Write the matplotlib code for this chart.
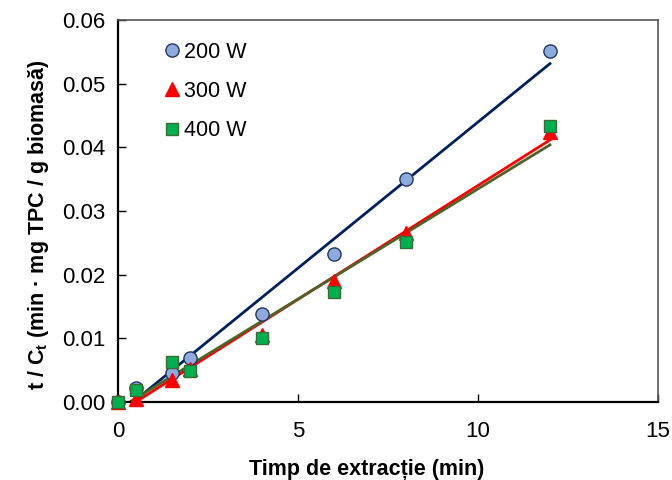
import numpy as np
import matplotlib
matplotlib.use("Agg")
import matplotlib.pyplot as plt

plt.rcParams['font.family'] = ['Liberation Sans', 'DejaVu Sans']
plt.rcParams['mathtext.fontset'] = 'custom'
plt.rcParams['mathtext.rm'] = 'Liberation Sans'
plt.rcParams['mathtext.bf'] = 'Liberation Sans:bold'

# timp (min)
t = [0, 0.5, 1.5, 2, 4, 6, 8, 12]
# t / Ct values
w200 = [0, 0.0022, 0.0046, 0.0069, 0.0138, 0.0232, 0.0350, 0.0552]
w300 = [0, 0.0005, 0.0035, 0.0052, 0.0105, 0.0190, 0.0265, 0.0425]
w400 = [0, 0.0019, 0.0063, 0.0049, 0.0100, 0.0173, 0.0251, 0.0433]

series = [
    ("200 W", w200, 'o', '#8FAADC', '#1F3864', '#002060', 9.5),
    ("300 W", w300, '^', '#FF0000', '#FF0000', '#FF0000', 9.5),
    ("400 W", w400, 's', '#00B050', '#3A6B35', '#4F6228', 9),
]

fig = plt.figure(figsize=(6.72, 4.8), dpi=100)
ax = fig.add_axes([0.176, 0.1625, 0.803, 0.7955])

xs = np.array([min(t), max(t)])
# trendlines first (under markers)
for name, y, m, fc, ec, lc, ms in series:
    k, b = np.polyfit(t, y, 1)
    ax.plot(xs, k * xs + b, color=lc, lw=2, zorder=2)

for name, y, m, fc, ec, lc, ms in series:
    ax.plot(t, y, m, ms=ms, mfc=fc, mec=ec, mew=1, label=name, zorder=3, clip_on=False)

ax.set_xlim(0, 15)
ax.set_ylim(0, 0.06)
ax.set_xticks([0, 5, 10, 15])
ax.set_yticks(np.arange(0, 0.061, 0.01))
ax.set_yticklabels([f"{v:.2f}" for v in np.arange(0, 0.061, 0.01)])
ax.tick_params(direction='in', length=6, width=1, labelsize=16, pad=9)
ax.tick_params(axis='x', pad=14)

for s in ['left', 'bottom']:
    ax.spines[s].set_linewidth(1.6)
    ax.spines[s].set_color('black')
for s in ['top', 'right']:
    ax.spines[s].set_linewidth(1.2)
    ax.spines[s].set_color('#555555')

ax.set_xlabel("Timp de extracție (min)", fontsize=15.5, fontweight='bold', labelpad=12)
ax.set_ylabel(r"t / C$_\mathbf{t}$ (min · mg TPC / g biomasă)", fontsize=15.5,
              fontweight='bold', labelpad=8)
ax.xaxis.label.set_x(0.46)
ax.yaxis.label.set_y(0.465)

ax.legend(loc='upper left', bbox_to_anchor=(0.04, 1.0), frameon=False, fontsize=15.5,
          labelspacing=0.85, handletextpad=0.05, handlelength=1.0, borderaxespad=0.6)

fig.savefig("out.png", dpi=100)
